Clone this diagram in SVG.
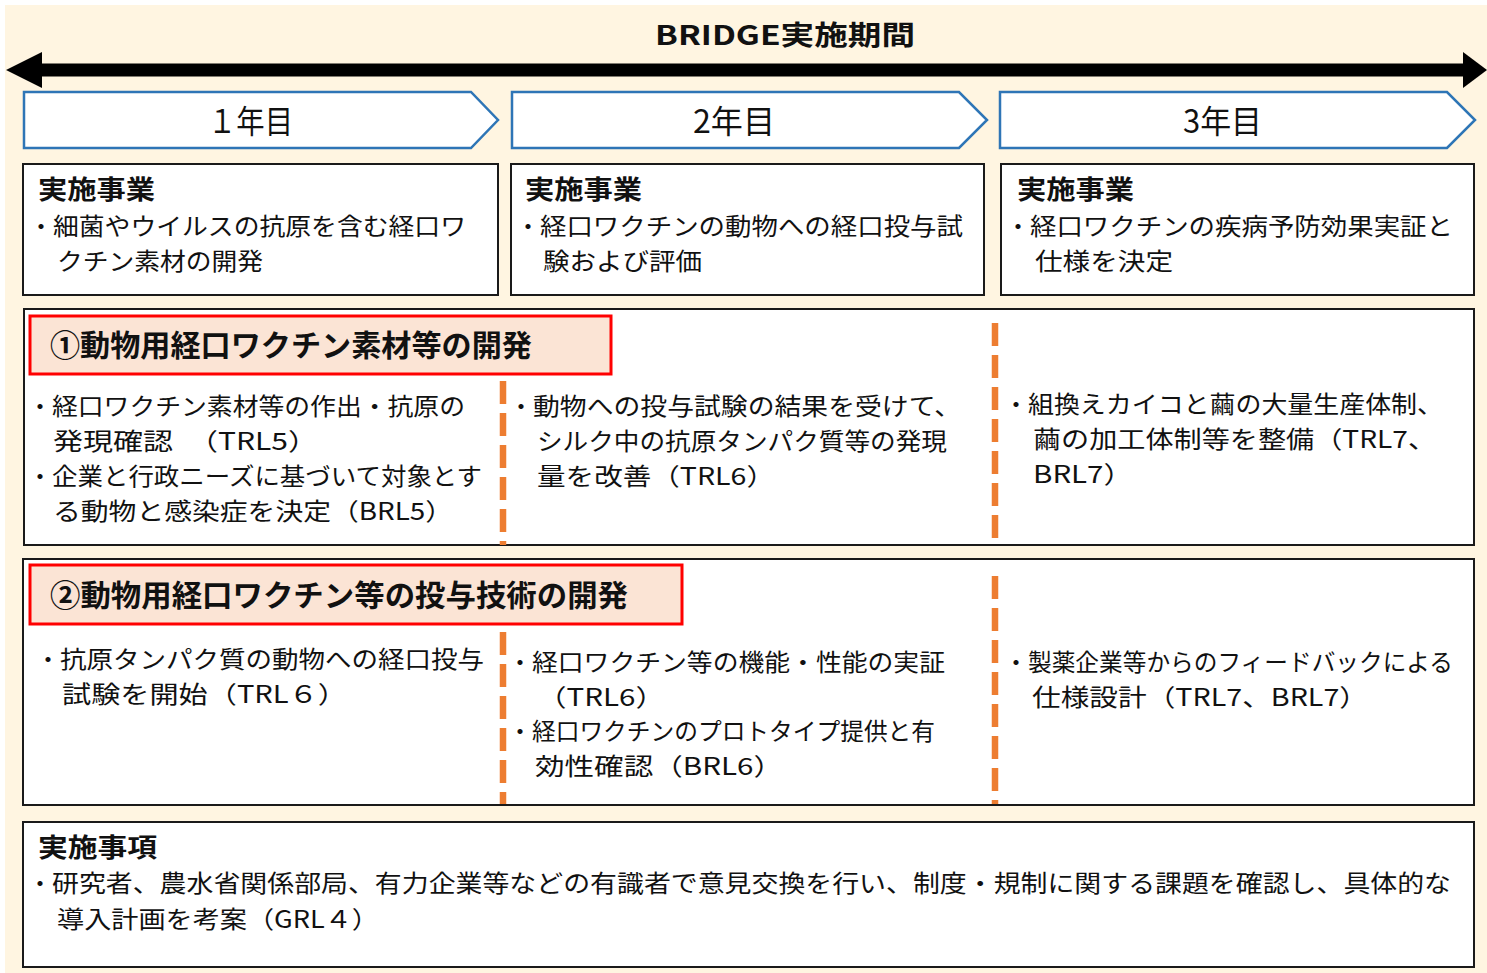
<svg xmlns="http://www.w3.org/2000/svg" width="1487" height="973" viewBox="0 0 1487 973">
<style>
text{font-family:"Meiryo UI","Noto Sans CJK JP","Noto Sans",sans-serif;fill:#111;}
.b{font-size:24px;}
.h{font-size:26px;font-weight:bold;}
.sh{font-size:30px;font-weight:bold;}
.yr{font-size:32px;}
.chev{fill:#fff;stroke:#2E75B6;stroke-width:2.5;}
.box{fill:#fff;stroke:#1a1a1a;stroke-width:2;}
.red{fill:#FBE4D5;stroke:#FF0000;stroke-width:3;}
.dash{stroke:#ED7D31;stroke-width:6.5;stroke-dasharray:23 9;fill:none;}
</style>
<rect x="5" y="5" width="1482" height="968" fill="#FFF5E1"/>
<g id="title"><text x="655" y="45" font-size="27" font-weight="bold" textLength="260" lengthAdjust="spacingAndGlyphs">BRIDGE実施期間</text></g>
<g id="connectors">
<rect x="40" y="63.5" width="1425" height="13" fill="#000"/>
<polygon points="6,70 42,52 42,88" fill="#000"/>
<polygon points="1487,70 1463,52 1463,88" fill="#000"/>
</g>
<g id="year1"><polygon class="chev" points="24,92 471,92 498,120 471,148 24,148"/><text class="yr" x="208" y="133" textLength="85" lengthAdjust="spacingAndGlyphs">１年目</text></g>
<g id="year2"><polygon class="chev" points="512,92 959,92 987,120 959,148 512,148"/><text class="yr" x="693" y="133" textLength="82" lengthAdjust="spacingAndGlyphs">2年目</text></g>
<g id="year3"><polygon class="chev" points="1000,92 1447,92 1475,120 1447,148 1000,148"/><text class="yr" x="1183" y="133" textLength="79" lengthAdjust="spacingAndGlyphs">3年目</text></g>
<g id="task1"><rect class="box" x="23" y="164" width="475" height="131"/>
<text class="h" x="38" y="199" textLength="117" lengthAdjust="spacingAndGlyphs">実施事業</text>
<text class="b" y="235"><tspan x="29">・</tspan><tspan x="53" textLength="413" lengthAdjust="spacingAndGlyphs">細菌やウイルスの抗原を含む経口ワ</tspan></text>
<text class="b" x="57" y="270" textLength="206" lengthAdjust="spacingAndGlyphs">クチン素材の開発</text></g>
<g id="task2"><rect class="box" x="511" y="164" width="473" height="131"/>
<text class="h" x="525" y="199" textLength="117" lengthAdjust="spacingAndGlyphs">実施事業</text>
<text class="b" y="235"><tspan x="516">・</tspan><tspan x="540" textLength="423" lengthAdjust="spacingAndGlyphs">経口ワクチンの動物への経口投与試</tspan></text>
<text class="b" x="543" y="270" textLength="159" lengthAdjust="spacingAndGlyphs">験および評価</text></g>
<g id="task3"><rect class="box" x="1001" y="164" width="473" height="131"/>
<text class="h" x="1017" y="199" textLength="117" lengthAdjust="spacingAndGlyphs">実施事業</text>
<text class="b" y="235"><tspan x="1006">・</tspan><tspan x="1030" textLength="423" lengthAdjust="spacingAndGlyphs">経口ワクチンの疾病予防効果実証と</tspan></text>
<text class="b" x="1035" y="270" textLength="138" lengthAdjust="spacingAndGlyphs">仕様を決定</text></g>
<g id="section1"><rect class="box" x="24" y="309" width="1450" height="236"/>
<rect class="red" x="30" y="316" width="581" height="58"/>
<text class="sh" x="50" y="356" textLength="482" lengthAdjust="spacingAndGlyphs">①動物用経口ワクチン素材等の開発</text>
<text class="b" y="415"><tspan x="28">・</tspan><tspan x="52" textLength="413" lengthAdjust="spacingAndGlyphs">経口ワクチン素材等の作出・抗原の</tspan></text>
<text class="b" x="53" y="450" textLength="265" lengthAdjust="spacingAndGlyphs">発現確認　（TRL5）</text>
<text class="b" y="485"><tspan x="28">・</tspan><tspan x="52" textLength="430" lengthAdjust="spacingAndGlyphs">企業と行政ニーズに基づいて対象とす</tspan></text>
<text class="b" x="53" y="520" textLength="400" lengthAdjust="spacingAndGlyphs">る動物と感染症を決定（BRL5）</text>
<text class="b" y="415"><tspan x="509">・</tspan><tspan x="533" textLength="428" lengthAdjust="spacingAndGlyphs">動物への投与試験の結果を受けて、</tspan></text>
<text class="b" x="537" y="450" textLength="410" lengthAdjust="spacingAndGlyphs">シルク中の抗原タンパク質等の発現</text>
<text class="b" x="537" y="485" textLength="238" lengthAdjust="spacingAndGlyphs">量を改善（TRL6）</text>
<text class="b" y="413"><tspan x="1004">・</tspan><tspan x="1028" textLength="415" lengthAdjust="spacingAndGlyphs">組換えカイコと繭の大量生産体制、</tspan></text>
<text class="b" x="1033" y="448" textLength="403" lengthAdjust="spacingAndGlyphs">繭の加工体制等を整備（TRL7、</text>
<text class="b" x="1033" y="483" textLength="100" lengthAdjust="spacingAndGlyphs">BRL7）</text></g>
<g id="section2"><rect class="box" x="23" y="559" width="1451" height="246"/>
<rect class="red" x="30" y="565" width="652" height="59"/>
<text class="sh" x="50" y="606" textLength="578" lengthAdjust="spacingAndGlyphs">②動物用経口ワクチン等の投与技術の開発</text>
<text class="b" y="668"><tspan x="36">・</tspan><tspan x="60" textLength="424" lengthAdjust="spacingAndGlyphs">抗原タンパク質の動物への経口投与</tspan></text>
<text class="b" x="62" y="703" textLength="285" lengthAdjust="spacingAndGlyphs">試験を開始（TRL６）</text>
<text class="b" y="671"><tspan x="508">・</tspan><tspan x="532" textLength="413" lengthAdjust="spacingAndGlyphs">経口ワクチン等の機能・性能の実証</tspan></text>
<text class="b" x="537" y="706" textLength="128" lengthAdjust="spacingAndGlyphs">（TRL6）</text>
<text class="b" y="740"><tspan x="508">・</tspan><tspan x="532" textLength="403" lengthAdjust="spacingAndGlyphs">経口ワクチンのプロトタイプ提供と有</tspan></text>
<text class="b" x="535" y="775" textLength="248" lengthAdjust="spacingAndGlyphs">効性確認（BRL6）</text>
<text class="b" y="671"><tspan x="1004">・</tspan><tspan x="1028" textLength="425" lengthAdjust="spacingAndGlyphs">製薬企業等からのフィードバックによる</tspan></text>
<text class="b" x="1032" y="706" textLength="336" lengthAdjust="spacingAndGlyphs">仕様設計（TRL7、BRL7）</text></g>
<g id="dividers">
<line class="dash" x1="503" y1="381" x2="503" y2="545"/>
<line class="dash" x1="995" y1="323" x2="995" y2="541"/>
<line class="dash" x1="503" y1="632" x2="503" y2="804"/>
<line class="dash" x1="995" y1="576" x2="995" y2="804"/>
</g>
<g id="matters"><rect class="box" x="23" y="822" width="1451" height="145"/>
<text class="h" x="38" y="857" textLength="119" lengthAdjust="spacingAndGlyphs">実施事項</text>
<text class="b" y="892"><tspan x="28">・</tspan><tspan x="52" textLength="1399" lengthAdjust="spacingAndGlyphs">研究者、農水省関係部局、有力企業等などの有識者で意見交換を行い、制度・規制に関する課題を確認し、具体的な</tspan></text>
<text class="b" x="57" y="928" textLength="322" lengthAdjust="spacingAndGlyphs">導入計画を考案（GRL４）</text></g>
</svg>
